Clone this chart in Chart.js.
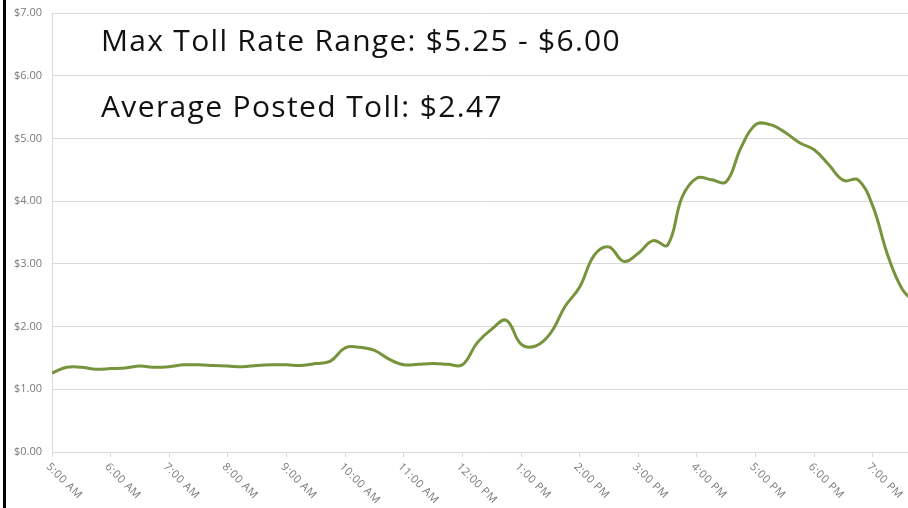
<!DOCTYPE html>
<html><head><meta charset="utf-8">
<script src="https://cdn.jsdelivr.net/npm/chart.js@4.4.1/dist/chart.umd.min.js"></script>
<style>
html,body{margin:0;padding:0;background:#fff;}
#wrap{position:relative;width:908px;height:508px;overflow:hidden;}
#c{position:absolute;left:0;top:0;}
#bar{position:absolute;left:3px;top:0;width:3px;height:508px;background:#000;}
.note{position:absolute;left:101px;font-family:"Open Sans", sans-serif;font-weight:400;font-size:30px;line-height:30px;color:#111;white-space:nowrap;}
</style></head><body>
<div id="wrap"><canvas id="c" width="908" height="508"></canvas><div id="bar"></div>
<div class="note" data-w="520" style="top:25px">Max Toll Rate Range: $5.25 - $6.00</div>
<div class="note" data-w="402" style="top:91px">Average Posted Toll: $2.47</div></div>
<script>
const times = ['5:00 AM','5:15 AM','5:30 AM','5:45 AM','6:00 AM','6:15 AM','6:30 AM','6:45 AM',
  '7:00 AM','7:15 AM','7:30 AM','7:45 AM','8:00 AM','8:15 AM','8:30 AM','8:45 AM',
  '9:00 AM','9:15 AM','9:30 AM','9:45 AM','10:00 AM','10:15 AM','10:30 AM','10:45 AM',
  '11:00 AM','11:15 AM','11:30 AM','11:45 AM','12:00 PM','12:15 PM','12:30 PM','12:45 PM',
  '1:00 PM','1:15 PM','1:30 PM','1:45 PM','2:00 PM','2:15 PM','2:30 PM','2:45 PM',
  '3:00 PM','3:15 PM','3:30 PM','3:45 PM','4:00 PM','4:15 PM','4:30 PM','4:45 PM',
  '5:00 PM','5:15 PM','5:30 PM','5:45 PM','6:00 PM','6:15 PM','6:30 PM','6:45 PM',
  '7:00 PM','7:15 PM','7:30 PM','7:45 PM'];
const tolls = [1.26,1.35,1.35,1.32,1.33,1.34,1.37,1.35,
  1.36,1.39,1.39,1.38,1.37,1.36,1.38,1.39,
  1.39,1.38,1.41,1.45,1.66,1.67,1.62,1.48,
  1.39,1.40,1.41,1.40,1.39,1.74,1.96,2.10,
  1.72,1.69,1.89,2.32,2.63,3.14,3.27,3.04,
  3.17,3.37,3.30,4.07,4.37,4.34,4.31,4.85,
  5.22,5.22,5.10,4.93,4.82,4.58,4.33,4.34,
  3.92,3.15,2.60,2.35];
const hourLabels = ['5:00 AM','6:00 AM','7:00 AM','8:00 AM','9:00 AM','10:00 AM','11:00 AM',
  '12:00 PM','1:00 PM','2:00 PM','3:00 PM','4:00 PM','5:00 PM','6:00 PM','7:00 PM'];
const yTickValues = [0,1,2,3,4,5,6,7];

document.querySelectorAll('.note').forEach(el => {
  const target = +el.dataset.w;
  const w = el.getBoundingClientRect().width;
  const n = el.textContent.length;
  el.style.letterSpacing = ((target - w) / n) + 'px';
});

function toMinutes(t){
  const m = t.match(/(\d+):(\d+) (AM|PM)/);
  let h = (+m[1]) % 12; if (m[3] === 'PM') h += 12;
  return (h - 5) * 60 + (+m[2]);
}
const points = times.map((t, i) => ({x: toMinutes(t), y: tolls[i]}));

const xLabelPlugin = {
  id: 'xlabels',
  afterDraw(chart){
    const ctx = chart.ctx, xs = chart.scales.x;
    ctx.save();
    ctx.font = '11px "Open Sans"';
    if ('letterSpacing' in ctx) ctx.letterSpacing = '0.6px';
    ctx.fillStyle = '#7a7a7a';
    hourLabels.forEach(lab => {
      const px = xs.getPixelForValue(toMinutes(lab));
      ctx.save();
      ctx.translate(px - 4, chart.chartArea.bottom + 13);
      ctx.rotate(Math.PI / 4);
      ctx.textAlign = 'left';
      ctx.textBaseline = 'middle';
      ctx.fillText(lab, 0, 0);
      ctx.restore();
    });
    ctx.restore();
  }
};

new Chart(document.getElementById('c'), {
  type: 'line',
  data: { datasets: [{
    data: points, borderColor: '#77933c', borderWidth: 3, pointRadius: 0,
    tension: 0.4, fill: false
  }]},
  options: {
    responsive: false, animation: false,
    layout: { padding: { left: 0, right: 0, top: 13, bottom: 0 } },
    plugins: { legend: { display: false }, tooltip: { enabled: false } },
    scales: {
      x: {
        type: 'linear', min: 0, max: 876,
        border: { display: false },
        grid: { drawOnChartArea: false, drawTicks: true, tickLength: 5, color: '#d9d9d9' },
        ticks: { display: false, stepSize: 60, includeBounds: false },
        afterFit(s){ s.height = 56; s.paddingLeft = 0; s.paddingRight = 0; }
      },
      y: {
        min: 0, max: 7,
        afterBuildTicks(s){ s.ticks = yTickValues.map(v => ({value: v})); },
        border: { display: true, color: '#d9d9d9' },
        grid: { color: '#d9d9d9', drawTicks: false },
        ticks: { color: '#7a7a7a', font: { family: 'Open Sans', size: 11 }, padding: 10,
          callback: v => '$' + Number(v).toFixed(2) },
        afterFit(s){ s.width = 52; s.paddingTop = 0; s.paddingBottom = 0; }
      }
    }
  },
  plugins: [xLabelPlugin]
});
</script>
</body></html>
